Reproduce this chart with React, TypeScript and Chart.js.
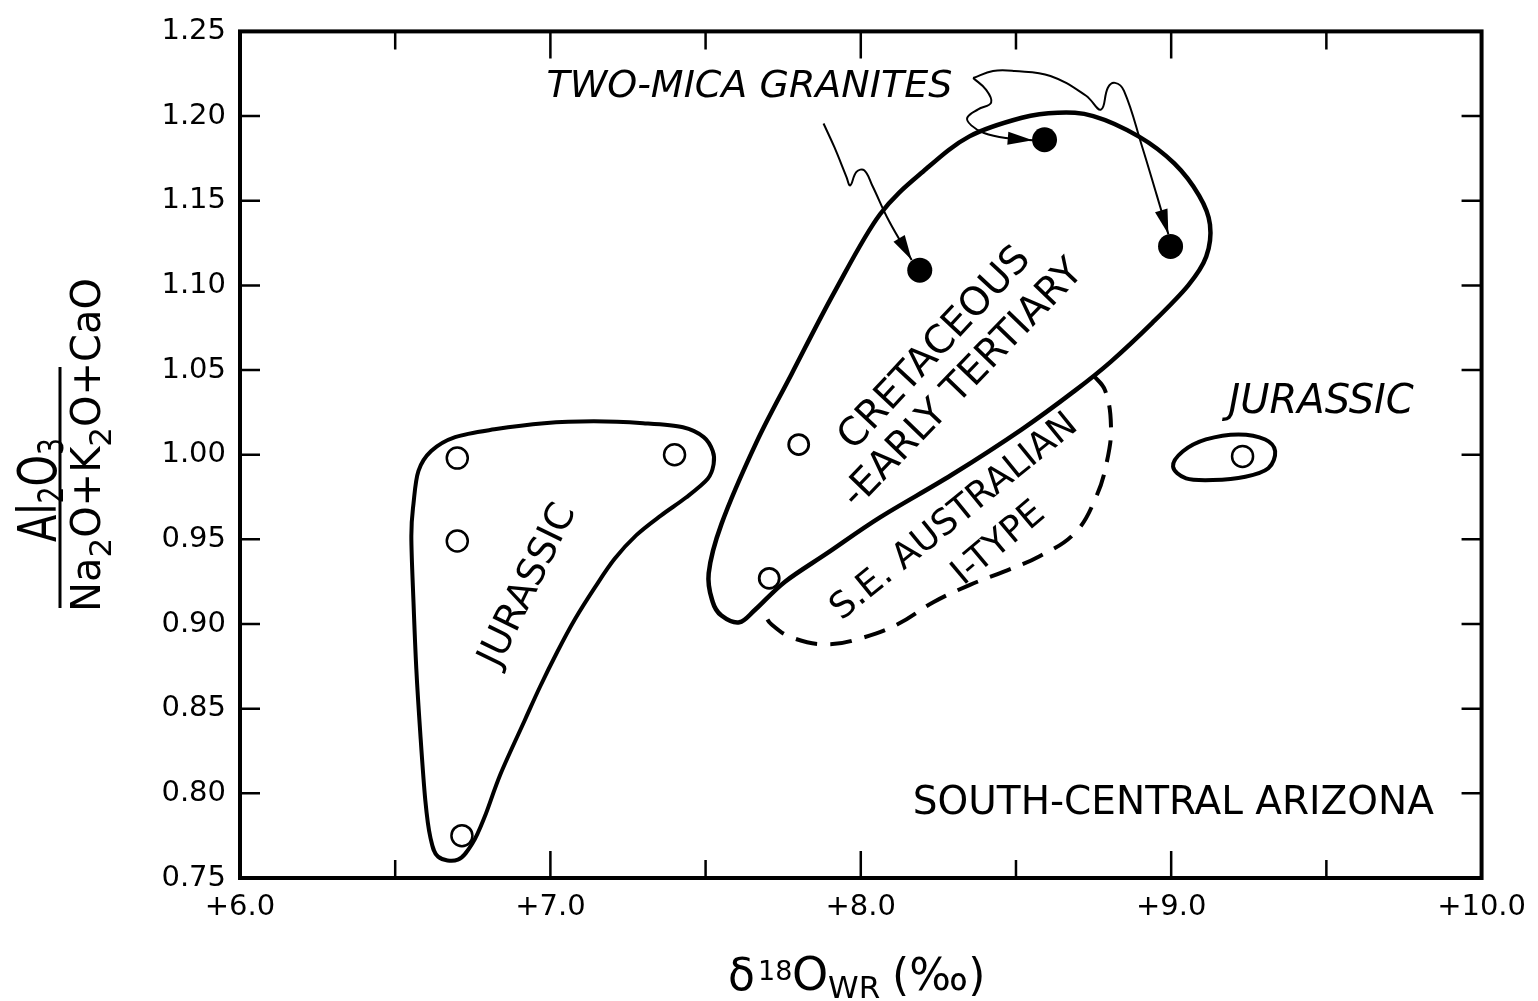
import React, { useEffect, useRef } from "react";
import { Chart, registerables } from "chart.js";

Chart.register(...registerables);

// ---------- axes ----------
const X_MIN = 6;
const X_MAX = 10;
const X_LABEL_STEP = 1;
const X_INNER_TICKS = [6.5, 7, 7.5, 8, 8.5, 9, 9.5];
const X_MAJOR_TICKS = [7, 8, 9];
const Y_MIN = 0.75;
const Y_MAX = 1.25;
const Y_STEP = 0.05;
const Y_INNER_TICKS = [0.8, 0.85, 0.9, 0.95, 1.0, 1.05, 1.1, 1.15, 1.2];

// ---------- samples ----------
const OPEN_X = [6.70, 6.70, 6.715, 7.40, 9.23];
const OPEN_Y = [0.998, 0.949, 0.775, 1.0, 0.999];
const CROSSED_X = [7.80, 7.705];
const CROSSED_Y = [1.006, 0.927];
const FILLED_X = [8.19, 8.592, 8.998];
const FILLED_Y = [1.109, 1.186, 1.123];

// ---------- field outlines ----------
const JURASSIC_W_X = [6.559, 6.575, 6.616, 6.693, 6.820, 6.980, 7.140, 7.299, 7.427, 7.494, 7.523, 7.526, 7.507, 7.437, 7.357, 7.277, 7.207, 7.143, 7.079, 7.022, 6.967, 6.916, 6.840, 6.788, 6.750, 6.702, 6.638, 6.613, 6.597, 6.581, 6.568, 6.559, 6.552];
const JURASSIC_W_Y = [0.9712, 0.9905, 1.0022, 1.0104, 1.015, 1.0186, 1.0197, 1.0186, 1.0162, 1.0104, 1.0022, 0.9946, 0.9858, 0.9747, 0.9642, 0.9525, 0.9385, 0.9215, 0.9028, 0.8835, 0.8631, 0.8426, 0.8117, 0.786, 0.7708, 0.7608, 0.7626, 0.7743, 0.7959, 0.835, 0.8736, 0.9128, 0.952];

const CRETACEOUS_X = [7.523, 7.510, 7.551, 7.663, 7.778, 7.915, 8.062, 8.212, 8.350, 8.519, 8.634, 8.749, 8.895, 9.010, 9.090, 9.125, 9.113, 9.055, 8.940, 8.806, 8.691, 8.519, 8.292, 8.062, 7.893, 7.756, 7.663, 7.609, 7.551];
const CRETACEOUS_Y = [0.913, 0.930, 0.959, 1.007, 1.048, 1.096, 1.142, 1.169, 1.188, 1.199, 1.202, 1.200, 1.188, 1.172, 1.153, 1.136, 1.117, 1.100, 1.078, 1.055, 1.038, 1.015, 0.988, 0.963, 0.942, 0.925, 0.909, 0.901, 0.905];

const JURASSIC_E_X = [9.006, 9.038, 9.112, 9.217, 9.303, 9.335, 9.313, 9.239, 9.134, 9.048];
const JURASSIC_E_Y = [0.993, 1.002, 1.009, 1.012, 1.009, 1.002, 0.992, 0.987, 0.985, 0.986];

const SE_AUSTRALIAN_X = [8.749, 8.787, 8.806, 8.793, 8.758, 8.691, 8.576, 8.461, 8.350, 8.235, 8.120, 8.008, 7.893, 7.778, 7.711, 7.692];
const SE_AUSTRALIAN_Y = [1.047, 1.038, 1.017, 0.996, 0.975, 0.954, 0.940, 0.931, 0.923, 0.913, 0.900, 0.892, 0.888, 0.892, 0.900, 0.905];

// ---------- leader lines (TWO-MICA GRANITES) ----------
const LEADER1_X = [7.880, 7.915, 7.954, 7.966, 7.986, 8.011, 8.037, 8.091, 8.164];
const LEADER1_Y = [1.1956, 1.1816, 1.164, 1.159, 1.167, 1.168, 1.159, 1.138, 1.115];
const LEADER2_X = [8.362, 8.404, 8.420, 8.378, 8.343, 8.356, 8.397, 8.468, 8.554];
const LEADER2_Y = [1.2225, 1.2155, 1.208, 1.204, 1.199, 1.1945, 1.190, 1.187, 1.1857];
const LEADER3_X = [8.362, 8.426, 8.496, 8.611, 8.726, 8.774, 8.796, 8.819, 8.848, 8.905, 8.953, 8.991];
const LEADER3_Y = [1.2225, 1.2266, 1.2266, 1.2237, 1.212, 1.2038, 1.2167, 1.2196, 1.2149, 1.1828, 1.1536, 1.1302];

// ---------- text annotations ----------
const LABEL_TEXT = ["TWO-MICA GRANITES", "SOUTH-CENTRAL ARIZONA", "JURASSIC", "JURASSIC", "CRETACEOUS", "-EARLY TERTIARY", "S.E. AUSTRALIAN", "I-TYPE"];
const LABEL_X = [7.641, 9.007, 9.483, 6.929, 8.240, 8.330, 8.302, 8.445];
const LABEL_Y = [1.2173, 0.7935, 1.0308, 0.9227, 1.0625, 1.0415, 0.963, 0.9473];

const LABEL_STYLE = [
  { angle: 0, size: 38, italic: true },
  { angle: 0, size: 39, italic: false },
  { angle: 0, size: 40, italic: true },
  { angle: -64, size: 38, italic: false },
  { angle: -47, size: 39, italic: false },
  { angle: -46, size: 39, italic: false },
  { angle: -39, size: 36, italic: false },
  { angle: -40, size: 36, italic: false },
];

const FONT = '"DejaVu Sans"';

const pts = (xs: number[], ys: number[]) => xs.map((x, i) => ({ x, y: ys[i] }));

function closedSpline(ctx: CanvasRenderingContext2D, p: number[][]) {
  const n = p.length;
  ctx.beginPath();
  ctx.moveTo(p[0][0], p[0][1]);
  for (let i = 0; i < n; i++) {
    const p0 = p[(i - 1 + n) % n], p1 = p[i], p2 = p[(i + 1) % n], p3 = p[(i + 2) % n];
    ctx.bezierCurveTo(
      p1[0] + (p2[0] - p0[0]) / 6, p1[1] + (p2[1] - p0[1]) / 6,
      p2[0] - (p3[0] - p1[0]) / 6, p2[1] - (p3[1] - p1[1]) / 6,
      p2[0], p2[1]
    );
  }
  ctx.closePath();
  ctx.stroke();
}

type Run = { t: string; size: number; dy: number };

function drawRuns(ctx: CanvasRenderingContext2D, runs: Run[], gap = 0) {
  const widths = runs.map((r) => {
    ctx.font = `${r.size}px ${FONT}`;
    return ctx.measureText(r.t).width;
  });
  const total = widths.reduce((a, b) => a + b, 0) + gap * (runs.length - 1);
  let x = -total / 2;
  runs.forEach((r, i) => {
    ctx.font = `${r.size}px ${FONT}`;
    ctx.fillText(r.t, x, r.dy);
    x += widths[i] + gap;
  });
}

const annotationPlugin = {
  id: "annotations",
  beforeDatasetsDraw(chart: any) {
    const { ctx, scales } = chart;
    const sx = scales.x, sy = scales.y;
    const toPx = (xs: number[], ys: number[]) => xs.map((x, i) => [sx.getPixelForValue(x), sy.getPixelForValue(ys[i])]);
    ctx.save();
    ctx.strokeStyle = "#000";
    ctx.lineJoin = "round";
    ctx.lineWidth = 4;
    closedSpline(ctx, toPx(JURASSIC_W_X, JURASSIC_W_Y));
    ctx.lineWidth = 4.5;
    closedSpline(ctx, toPx(CRETACEOUS_X, CRETACEOUS_Y));
    ctx.lineWidth = 4;
    closedSpline(ctx, toPx(JURASSIC_E_X, JURASSIC_E_Y));
    ctx.restore();
  },
  afterDatasetsDraw(chart: any) {
    const { ctx, scales } = chart;
    const sx = scales.x, sy = scales.y;
    ctx.save();
    ctx.fillStyle = "#000";
    // arrowheads
    [[LEADER1_X, LEADER1_Y], [LEADER2_X, LEADER2_Y], [LEADER3_X, LEADER3_Y]].forEach(([xs, ys]) => {
      const n = xs.length;
      const tx = sx.getPixelForValue(xs[n - 1]), ty = sy.getPixelForValue(ys[n - 1]);
      const px = sx.getPixelForValue(xs[n - 2]), py = sy.getPixelForValue(ys[n - 2]);
      let dx = tx - px, dy = ty - py;
      const len = Math.hypot(dx, dy);
      dx /= len; dy /= len;
      const L = 25, W = 6.5;
      const bx = tx - dx * L, by = ty - dy * L;
      ctx.beginPath();
      ctx.moveTo(tx, ty);
      ctx.lineTo(bx - dy * W, by + dx * W);
      ctx.lineTo(bx + dy * W, by - dx * W);
      ctx.closePath();
      ctx.fill();
    });
    // text labels
    ctx.textAlign = "center";
    ctx.textBaseline = "middle";
    LABEL_TEXT.forEach((t, i) => {
      const st = LABEL_STYLE[i];
      ctx.save();
      ctx.translate(sx.getPixelForValue(LABEL_X[i]), sy.getPixelForValue(LABEL_Y[i]));
      ctx.rotate((st.angle * Math.PI) / 180);
      ctx.font = `${st.italic ? "italic " : ""}${st.size}px ${FONT}`;
      ctx.fillText(t, 0, 0);
      ctx.restore();
    });
    ctx.restore();
  },
  afterDraw(chart: any) {
    const { ctx, scales, chartArea: a } = chart;
    const sx = scales.x, sy = scales.y;
    ctx.save();
    ctx.strokeStyle = "#000";
    ctx.fillStyle = "#000";
    // frame
    ctx.lineWidth = 4;
    ctx.lineJoin = "miter";
    ctx.strokeRect(a.left, a.top, a.right - a.left, a.bottom - a.top);
    // inner ticks
    ctx.lineWidth = 2.5;
    ctx.beginPath();
    X_INNER_TICKS.forEach((v) => {
      const x = sx.getPixelForValue(v);
      const len = X_MAJOR_TICKS.includes(v) ? 27 : 18;
      ctx.moveTo(x, a.bottom);
      ctx.lineTo(x, a.bottom - len);
      ctx.moveTo(x, a.top);
      ctx.lineTo(x, a.top + len);
    });
    Y_INNER_TICKS.forEach((v) => {
      const y = sy.getPixelForValue(v);
      ctx.moveTo(a.left, y);
      ctx.lineTo(a.left + 20, y);
      ctx.moveTo(a.right, y);
      ctx.lineTo(a.right - 20, y);
    });
    ctx.stroke();

    // x-axis title  δ18O_WR (‰)
    ctx.textAlign = "left";
    ctx.textBaseline = "alphabetic";
    const base = a.bottom + 112;
    const x0 = a.left + 488;
    ctx.font = `44px ${FONT}`;
    ctx.fillText("δ", x0, base);
    ctx.font = `27px ${FONT}`;
    ctx.fillText("18", x0 + 30, base - 10);
    ctx.font = `46px ${FONT}`;
    ctx.fillText("O", x0 + 64, base);
    ctx.font = `31px ${FONT}`;
    ctx.fillText("WR", x0 + 100, base + 8);
    ctx.font = `44px ${FONT}`;
    ctx.fillText("(‰)", x0 + 164, base);

    // y-axis title: fraction
    ctx.lineWidth = 3;
    ctx.beginPath();
    ctx.moveTo(a.left - 180, 367);
    ctx.lineTo(a.left - 180, 608);
    ctx.stroke();

    ctx.textAlign = "left";
    // numerator Al2O3
    ctx.save();
    ctx.translate(a.left - 184, 490);
    ctx.rotate(-Math.PI / 2);
    ctx.scale(0.74, 1);
    drawRuns(ctx, [
      { t: "Al", size: 54, dy: 0 },
      { t: "2", size: 36, dy: 7 },
      { t: "O", size: 54, dy: 0 },
      { t: "3", size: 36, dy: 7 },
    ]);
    ctx.restore();
    // denominator Na2O+K2O+CaO
    ctx.save();
    ctx.translate(a.left - 140, 445);
    ctx.rotate(-Math.PI / 2);
    drawRuns(ctx, [
      { t: "Na", size: 40, dy: 0 },
      { t: "2", size: 31, dy: 11 },
      { t: "O+K", size: 40, dy: 0 },
      { t: "2", size: 31, dy: 11 },
      { t: "O+CaO", size: 40, dy: 0 },
    ]);
    ctx.restore();
    ctx.restore();
  },
};

export default function App() {
  const ref = useRef<HTMLCanvasElement | null>(null);

  useEffect(() => {
    if (!ref.current) return;
    const leader = (xs: number[], ys: number[]) => ({
      type: "line",
      data: pts(xs, ys),
      showLine: true,
      borderColor: "#000",
      borderWidth: 2,
      pointRadius: 0,
      tension: 0.4,
      fill: false,
      clip: false,
    });
    const chart = new Chart(ref.current, {
      type: "scatter",
      data: {
        datasets: [
          {
            label: "Two-mica granites",
            data: pts(FILLED_X, FILLED_Y),
            pointStyle: "circle",
            pointRadius: 12.5,
            backgroundColor: "#000",
            borderColor: "#000",
            borderWidth: 0,
          },
          {
            label: "Cretaceous-early Tertiary",
            data: pts(CROSSED_X, CROSSED_Y),
            pointStyle: "circle",
            pointRadius: 10,
            backgroundColor: "#fff",
            borderColor: "#000",
            borderWidth: 2.8,
          },
          {
            label: "Cretaceous-early Tertiary (cross)",
            data: pts(CROSSED_X, CROSSED_Y),
            pointStyle: "cross",
            pointRadius: 10,
            borderColor: "#000",
            borderWidth: 2.8,
          },
          {
            label: "Jurassic",
            data: pts(OPEN_X, OPEN_Y),
            pointStyle: "circle",
            pointRadius: 10.5,
            backgroundColor: "#fff",
            borderColor: "#000",
            borderWidth: 2.5,
          },
          {
            type: "line",
            label: "S.E. Australian I-type",
            data: pts(SE_AUSTRALIAN_X, SE_AUSTRALIAN_Y),
            showLine: true,
            borderColor: "#000",
            borderWidth: 4,
            borderDash: [22, 13],
            pointRadius: 0,
            tension: 0.4,
            fill: false,
            clip: false,
          },
          leader(LEADER1_X, LEADER1_Y),
          leader(LEADER2_X, LEADER2_Y),
          leader(LEADER3_X, LEADER3_Y),
        ] as any,
      },
      options: {
        animation: false,
        responsive: false,
        events: [],
        layout: { padding: { left: 0, top: 20, right: 47, bottom: 0 } },
        plugins: { legend: { display: false }, tooltip: { enabled: false } },
        scales: {
          x: {
            type: "linear",
            min: X_MIN,
            max: X_MAX,
            grid: { display: false, drawTicks: false },
            border: { display: false },
            afterFit: (s: any) => {
              s.height = 123;
            },
            ticks: {
              stepSize: X_LABEL_STEP,
              color: "#000",
              padding: 12,
              font: { family: FONT, size: 29 },
              callback: (v: any) => "+" + Number(v).toFixed(1),
            },
          },
          y: {
            type: "linear",
            min: Y_MIN,
            max: Y_MAX,
            grid: { display: false, drawTicks: false },
            border: { display: false },
            afterFit: (s: any) => {
              s.width = 240;
            },
            ticks: {
              stepSize: Y_STEP,
              color: "#000",
              padding: 14,
              font: { family: FONT, size: 29 },
              callback: (v: any) => Number(v).toFixed(2),
            },
          },
        },
      } as any,
      plugins: [annotationPlugin],
    });
    return () => chart.destroy();
  }, []);

  return (
    <div style={{ position: "fixed", left: 0, top: 0, width: 1538, height: 1001, background: "#fff" }}>
      <canvas ref={ref} width={1538} height={1001} style={{ width: 1538, height: 1001 }} />
    </div>
  );
}
